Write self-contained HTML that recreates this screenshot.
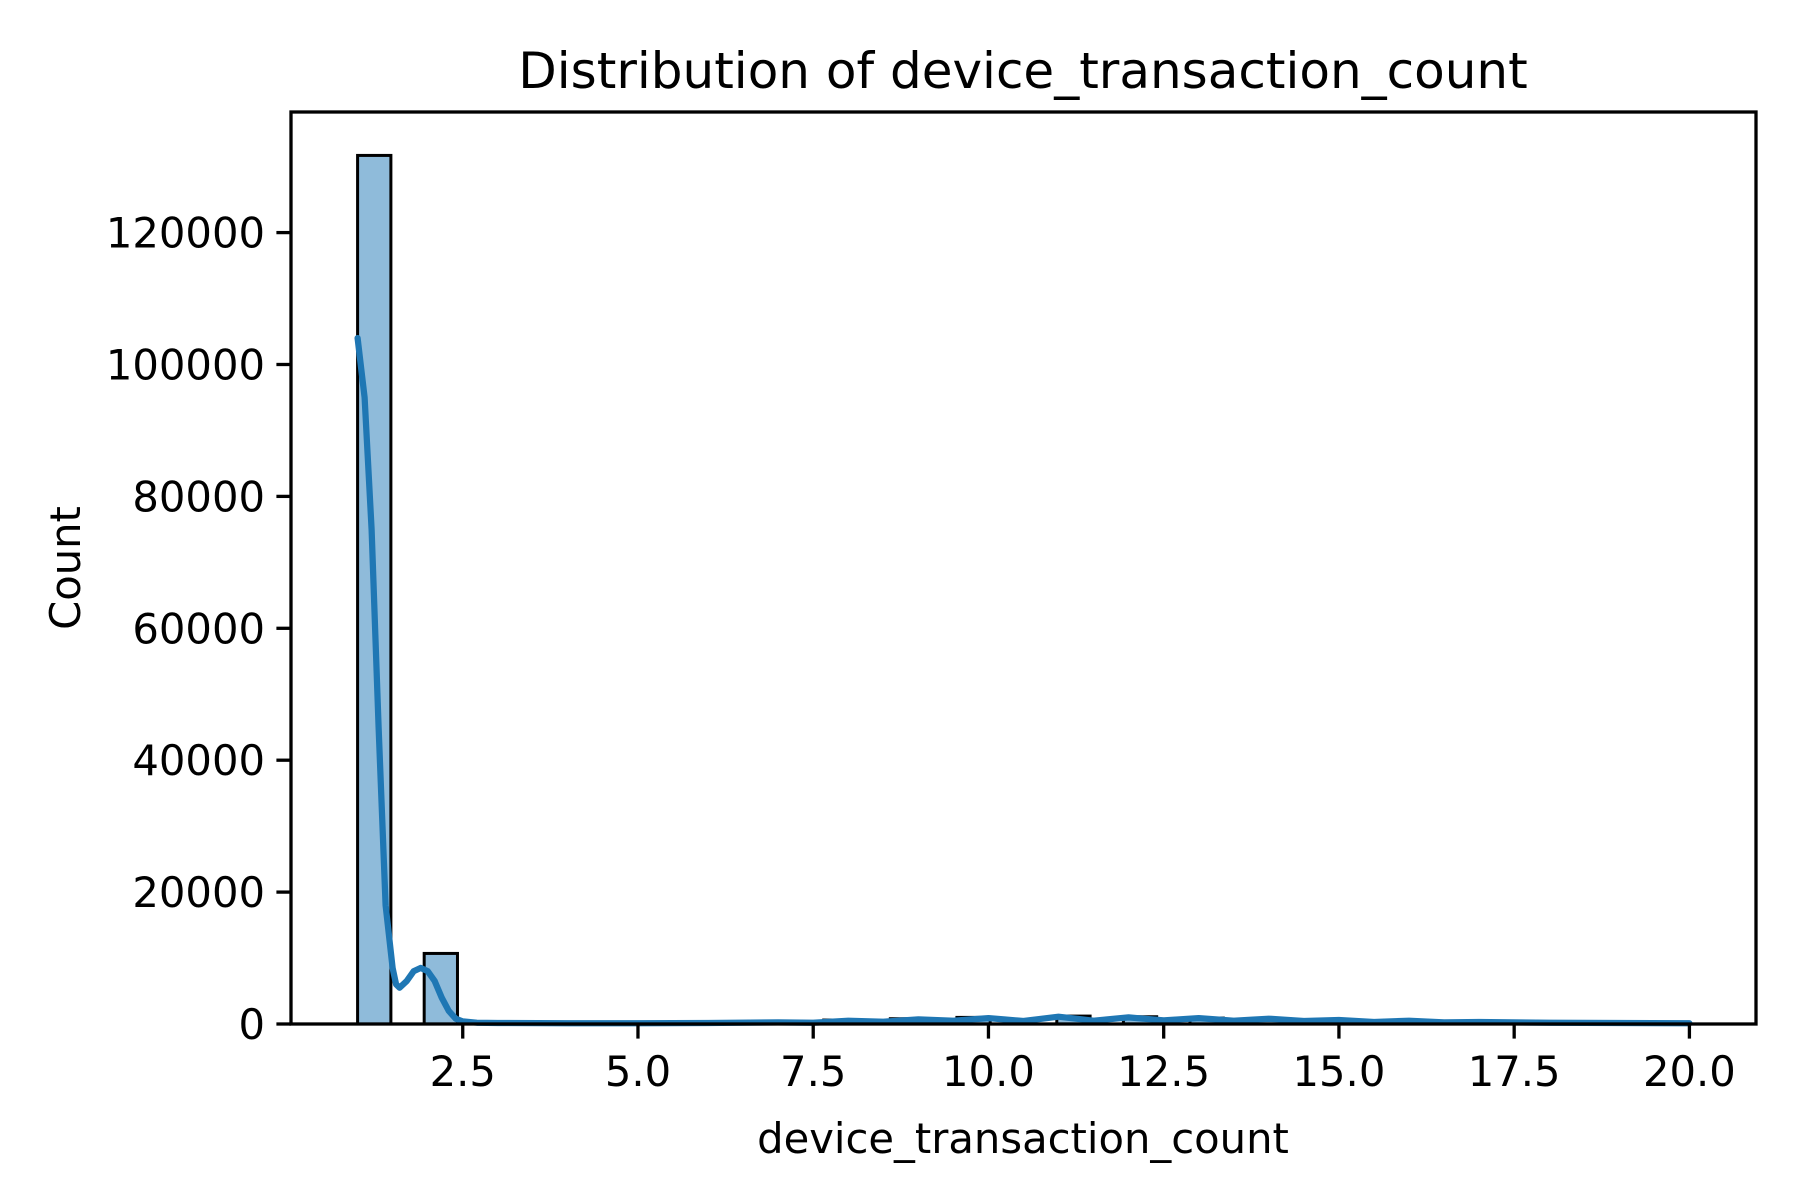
<!DOCTYPE html>
<html><head><meta charset="utf-8"><style>
html,body{margin:0;padding:0;background:#fff;}
svg{display:block;font-family:"DejaVu Sans","Liberation Sans",sans-serif;}
</style></head><body>
<svg id="chart" width="1800" height="1200" viewBox="0 0 1800 1200" xmlns="http://www.w3.org/2000/svg">
<rect width="1800" height="1200" fill="#fff"/>
<text x="1023" y="88" font-size="50" text-anchor="middle">Distribution of device_transaction_count</text>
<g id="bars"></g>
<g id="kde"></g>
<g id="xaxis"></g>
<g id="yaxis"></g>
<rect x="291" y="112" width="1465" height="912" fill="none" stroke="#000" stroke-width="3.3"/>
<text x="1023" y="1153" font-size="41.7" text-anchor="middle">device_transaction_count</text>
<text x="0" y="0" font-size="41.7" text-anchor="middle" transform="translate(80,568) rotate(-90)">Count</text>
</svg>
<script>
const binValues = [1,2,3,4,5,6,7,8,9,10,11,12,13,14,15,16,17,18,19,20];
const binCounts = [131700,10700,150,100,100,150,250,600,800,1000,1200,1100,900,800,500,400,200,150,100,80];
const binRange = [1,20];
const binCount = 40;
const kdeX = [1,1.1,1.2,1.3,1.4,1.5,1.55,1.6,1.7,1.8,1.9,2.0,2.1,2.2,2.3,2.4,2.5,2.7,3,4,5,6,7,7.5,8,8.5,9,9.5,10,10.5,11,11.5,12,12.5,13,13.5,14,14.5,15,15.5,16,16.5,17,18,19,20];
const kdeY = [104000,95000,75000,45000,18000,8500,6000,5500,6500,8000,8500,8000,6500,4000,2000,800,400,200,150,100,100,150,250,200,500,350,700,500,900,450,1100,500,1000,550,900,500,800,450,600,300,500,250,300,200,150,100];
const xTicks = [2.5,5,7.5,10,12.5,15,17.5,20];
const xTickLabels = ["2.5","5.0","7.5","10.0","12.5","15.0","17.5","20.0"];
const yTicks = [0,20000,40000,60000,80000,100000,120000];
const yTickLabels = ["0","20000","40000","60000","80000","100000","120000"];

const L=291,R=1756,T=112,B=1024, xmin=0.05, xmax=20.95, ymax=138285;
const sx=v=>L+(v-xmin)/(xmax-xmin)*(R-L);
const sy=v=>B-v/ymax*(B-T);
const NS="http://www.w3.org/2000/svg";
function mk(tag,attrs,parent){const e=document.createElementNS(NS,tag);for(const k in attrs)e.setAttribute(k,attrs[k]);parent.appendChild(e);return e;}

const bw=(binRange[1]-binRange[0])/binCount;
const bars=document.getElementById('bars');
binValues.forEach((v,i)=>{
  const idx=Math.min(Math.floor((v-binRange[0])/bw+1e-9),binCount-1);
  const s=binRange[0]+idx*bw;
  const x0=sx(s),x1=sx(s+bw),y=sy(binCounts[i]);
  const r=mk('rect',{x:x0,y:y,width:x1-x0,height:B-y,fill:'#8fbbda',stroke:'#000','stroke-width':3},bars);
  
  
});

const kde=document.getElementById('kde');
const pts=kdeX.map((x,i)=>sx(x).toFixed(1)+','+sy(kdeY[i]).toFixed(1)).join(' ');
const pl=mk('polyline',{points:pts,fill:'none',stroke:'#1f77b4','stroke-width':6.25,'stroke-linejoin':'round','stroke-linecap':'round'},kde);



const xa=document.getElementById('xaxis');
xTicks.forEach((t,i)=>{
  const x=sx(t);
  const tk=mk('line',{x1:x,x2:x,y1:B,y2:B+14.6,stroke:'#000','stroke-width':3.3},xa);
  
  
  const tx=mk('text',{x:x,y:B+62,'font-size':41.7,'text-anchor':'middle'},xa);
  tx.textContent=xTickLabels[i];
  
  
});
const ya=document.getElementById('yaxis');
yTicks.forEach((t,i)=>{
  const y=sy(t);
  const tk=mk('line',{x1:L-14.6,x2:L,y1:y,y2:y,stroke:'#000','stroke-width':3.3},ya);
  
  
  const tx=mk('text',{x:L-26,y:y+15,'font-size':41.7,'text-anchor':'end'},ya);
  tx.textContent=yTickLabels[i];
  
  
});
</script>
</body></html>
